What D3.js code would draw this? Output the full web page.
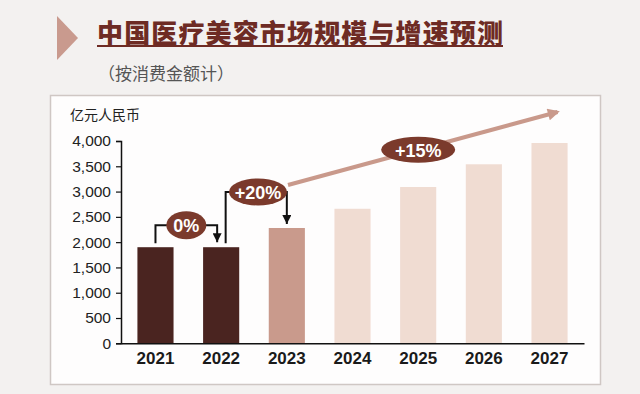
<!DOCTYPE html>
<html>
<head>
<meta charset="utf-8">
<script src="https://cdn.jsdelivr.net/npm/d3@7"></script>
<style>
  body { margin: 0; background: #f3f1f0; }
  svg { display: block; }
</style>
</head>
<body>
<div id="chart"></div>
<script>
// data
const years = ["2021", "2022", "2023", "2024", "2025", "2026", "2027"];
const marketSize = [1900, 1900, 2280, 2660, 3090, 3540, 3960];
const phase = ["actual", "actual", "estimate", "forecast", "forecast", "forecast", "forecast"];
const yTicks = [0, 500, 1000, 1500, 2000, 2500, 3000, 3500, 4000];
const growthLabels = ["0%", "+20%", "+15%"];

const W = 640, H = 394;
const phaseColor = { actual: "#4a2420", estimate: "#c99a8c", forecast: "#f0dcd2" };
const cjk = "'Noto Sans CJK SC', sans-serif";
const latin = "'Liberation Sans', Arial, sans-serif";

const svg = d3.select("#chart").append("svg")
    .attr("width", W)
    .attr("height", H);

// title block
svg.append("path")
    .attr("d", "M57,16 L78,38 L57,60 Z")
    .attr("fill", "#c99a8e");

svg.append("text")
    .attr("x", 97)
    .attr("y", 31)
    .attr("dominant-baseline", "central")
    .attr("font-family", cjk)
    .attr("font-weight", 900)
    .attr("font-size", 26)
    .attr("fill", "#6e2b24")
    .attr("textLength", 406)
    .text("中国医疗美容市场规模与增速预测");

svg.append("line")
    .attr("x1", 97).attr("x2", 503)
    .attr("y1", 46).attr("y2", 46)
    .attr("stroke", "#6e2b24")
    .attr("stroke-width", 2);

svg.append("text")
    .attr("x", 98)
    .attr("y", 72)
    .attr("dominant-baseline", "central")
    .attr("font-family", cjk)
    .attr("font-size", 17)
    .attr("fill", "#555")
    .text("（按消费金额计）");

// chart panel
svg.append("rect")
    .attr("x", 50.5).attr("y", 95.5)
    .attr("width", 550).attr("height", 289)
    .attr("fill", "#fefdfd")
    .attr("stroke", "#cfc7c4")
    .attr("stroke-width", 1.5);

const x0 = 121, x1 = 584, yBase = 343.3, yTop = 141;

const xScale = d3.scaleBand()
    .domain(years)
    .range([x0, x1])
    .paddingInner(0.45)
    .paddingOuter(0.25);

const yScale = d3.scaleLinear()
    .domain([0, 4000])
    .range([yBase, yTop]);

const cx = d => xScale(d) + xScale.bandwidth() / 2;

// unit label
svg.append("text")
    .attr("x", 70)
    .attr("y", 114)
    .attr("dominant-baseline", "central")
    .attr("font-family", cjk)
    .attr("font-size", 14)
    .attr("fill", "#222")
    .text("亿元人民币");

// bars
svg.selectAll(".bar")
    .data(years)
    .join("rect")
    .attr("class", "bar")
    .attr("x", d => xScale(d))
    .attr("width", xScale.bandwidth())
    .attr("y", (d, i) => yScale(marketSize[i]))
    .attr("height", (d, i) => yBase - yScale(marketSize[i]))
    .attr("fill", (d, i) => phaseColor[phase[i]]);

// y axis
const yAxis = d3.axisLeft(yScale)
    .tickValues(yTicks)
    .tickFormat(d3.format(","))
    .tickSize(5)
    .tickPadding(5);

const gy = svg.append("g")
    .attr("transform", `translate(${x0},0)`)
    .call(yAxis);
gy.select(".domain").attr("stroke", "#111").attr("stroke-width", 1.5);
gy.selectAll(".tick line").attr("stroke", "#111").attr("stroke-width", 1.2);
gy.selectAll(".tick text")
    .attr("font-family", latin)
    .attr("font-size", 15.5)
    .attr("fill", "#222");

// x axis
const xAxis = d3.axisBottom(xScale).tickSize(0).tickPadding(9);
const gx = svg.append("g")
    .attr("transform", `translate(0,${yBase})`)
    .call(xAxis);
gx.select(".domain").attr("stroke", "#111").attr("stroke-width", 1.5);
gx.selectAll(".tick text")
    .attr("font-family", latin)
    .attr("font-weight", 700)
    .attr("font-size", 17)
    .attr("fill", "#1a1a1a");

// annotation helpers
const defs = svg.append("defs");
defs.append("marker")
    .attr("id", "blackHead")
    .attr("viewBox", "0 0 10 10")
    .attr("refX", 10).attr("refY", 5)
    .attr("markerWidth", 9).attr("markerHeight", 9)
    .attr("markerUnits", "userSpaceOnUse")
    .attr("orient", "auto")
    .append("path").attr("d", "M0,0 L10,5 L0,10 Z").attr("fill", "#111");
defs.append("marker")
    .attr("id", "trendHead")
    .attr("viewBox", "0 0 10 10")
    .attr("refX", 8).attr("refY", 5)
    .attr("markerWidth", 14).attr("markerHeight", 12)
    .attr("markerUnits", "userSpaceOnUse")
    .attr("orient", "auto")
    .append("path").attr("d", "M0,0 L10,5 L0,10 Z").attr("fill", "#c9998b");

function bubble(x, y, rx, ry, label) {
    svg.append("ellipse")
        .attr("cx", x).attr("cy", y)
        .attr("rx", rx).attr("ry", ry)
        .attr("fill", "#7b3a2c");
    svg.append("text")
        .attr("x", x).attr("y", y + 1)
        .attr("text-anchor", "middle")
        .attr("dominant-baseline", "central")
        .attr("font-family", latin)
        .attr("font-weight", 700)
        .attr("font-size", 18)
        .attr("fill", "#fff")
        .text(label);
}

// trend arrow (behind the bubbles)
const b20 = { x: (cx(years[1]) + cx(years[2])) / 2 + 4, y: yScale(marketSize[2]) - 36 };
const trendStart = [b20.x + 30, b20.y - 7];
const trendEnd = [cx(years[6]) + 8, yScale(4000) - 29];
svg.append("line")
    .attr("x1", trendStart[0]).attr("y1", trendStart[1])
    .attr("x2", trendEnd[0]).attr("y2", trendEnd[1])
    .attr("stroke", "#c9998b")
    .attr("stroke-width", 4)
    .attr("marker-end", "url(#trendHead)");

// 0% bracket 2021 -> 2022
const b0 = { x: (cx(years[0]) + cx(years[1])) / 2 - 2, y: yScale(marketSize[1]) - 22 };
const top0 = yScale(marketSize[0]) - 4;
svg.append("path")
    .attr("d", `M${cx(years[0])},${top0} V${b0.y} H${b0.x}`)
    .attr("fill", "none").attr("stroke", "#111").attr("stroke-width", 2);
svg.append("path")
    .attr("d", `M${b0.x},${b0.y} H${cx(years[1]) - 4} V${yScale(marketSize[1]) - 5}`)
    .attr("fill", "none").attr("stroke", "#111").attr("stroke-width", 2)
    .attr("marker-end", "url(#blackHead)");
bubble(b0.x, b0.y, 20, 14, growthLabels[0]);

// +20% bracket 2022 -> 2023
svg.append("path")
    .attr("d", `M${cx(years[1]) + 4.5},${top0} V${b20.y} H${b20.x}`)
    .attr("fill", "none").attr("stroke", "#111").attr("stroke-width", 2);
svg.append("path")
    .attr("d", `M${b20.x},${b20.y} H${cx(years[2])} V${yScale(marketSize[2]) - 4}`)
    .attr("fill", "none").attr("stroke", "#111").attr("stroke-width", 2)
    .attr("marker-end", "url(#blackHead)");
bubble(b20.x, b20.y, 29, 13.5, growthLabels[1]);

// +15% bubble sits on the trend arrow above 2025
const t = (cx(years[4]) - trendStart[0]) / (trendEnd[0] - trendStart[0]);
const b15y = trendStart[1] + t * (trendEnd[1] - trendStart[1]);
bubble(cx(years[4]), b15y, 37, 13, growthLabels[2]);
</script>
</body>
</html>
